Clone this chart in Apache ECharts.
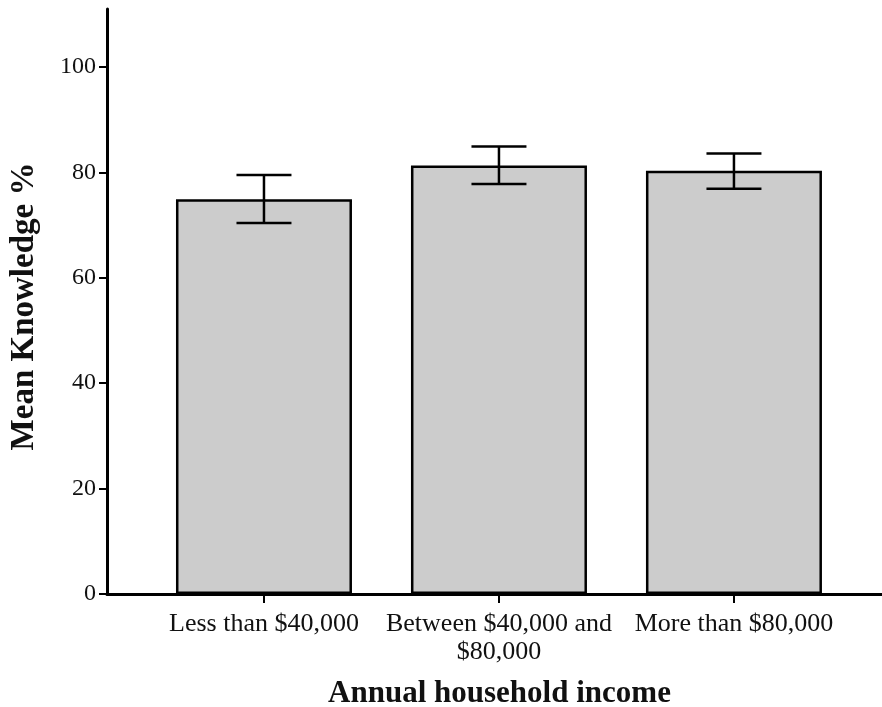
<!DOCTYPE html>
<html>
<head>
<meta charset="utf-8">
<script src="https://cdn.jsdelivr.net/npm/echarts@6/dist/echarts.min.js"></script>
<style>
html,body{margin:0;padding:0;background:#fff;}
#main{width:882px;height:707px;}
</style>
</head>
<body>
<div id="main"></div>
<script>
var categories = ['Less than $40,000', 'Between $40,000 and\n$80,000', 'More than $80,000'];
var means = [74.9, 81.3, 80.3];
var errLow = [70.4, 77.8, 76.9];
var errHigh = [79.5, 84.9, 83.6];
var yTicks = [0, 20, 40, 60, 80, 100];

var positions = categories.map(function (c, i) { return i; });
var barData = positions.map(function (p, i) { return [p, means[i]]; });
var errData = positions.map(function (p, i) { return [p, errLow[i], errHigh[i]]; });

var FONT = '"Liberation Serif", "Times New Roman", serif';
var chart = echarts.init(document.getElementById('main'));
chart.setOption({
  animation: false,
  backgroundColor: '#ffffff',
  grid: { left: 107, right: 0, top: 9, bottom: 113, containLabel: false, outerBoundsMode: 'none' },
  xAxis: {
    type: 'value',
    min: -0.668,
    max: 2.63,
    splitLine: { show: false },
    axisLine: { show: true, onZero: false, lineStyle: { color: '#000', width: 3 } },
    axisTick: { show: true, customValues: positions, length: 9, lineStyle: { color: '#000', width: 2 } },
    axisLabel: {
      customValues: positions,
      formatter: function (v) { return categories[Math.round(v)]; },
      fontFamily: FONT, fontSize: 26, color: '#111', margin: 16, lineHeight: 28
    },
    name: 'Annual household income',
    nameLocation: 'middle',
    nameGap: 84,
    nameTextStyle: { fontFamily: FONT, fontSize: 31, fontWeight: 'bold', color: '#111', padding: [0, 0, 0, 10] }
  },
  yAxis: {
    type: 'value',
    min: 0,
    max: 111,
    splitLine: { show: false },
    axisLine: { show: true, onZero: false, lineStyle: { color: '#000', width: 3 } },
    axisTick: { show: true, customValues: yTicks, length: 8, lineStyle: { color: '#000', width: 2 } },
    axisLabel: { customValues: yTicks, fontFamily: FONT, fontSize: 24, color: '#111', margin: 11 },
    name: 'Mean Knowledge %',
    nameLocation: 'middle',
    nameGap: 66,
    nameRotate: 90,
    nameTextStyle: { fontFamily: FONT, fontSize: 33, fontWeight: 'bold', color: '#111', padding: [0, 10, 0, 0] }
  },
  series: [
    {
      type: 'bar',
      data: barData,
      barWidth: 176,
      itemStyle: { color: '#cccccc', borderColor: '#000', borderWidth: 2.5 },
      z: 2
    },
    {
      type: 'custom',
      data: errData,
      z: 3,
      renderItem: function (params, api) {
        var x = api.value(0);
        var lo = api.coord([x, api.value(1)]);
        var hi = api.coord([x, api.value(2)]);
        var hw = api.size([0.117, 0])[0];
        var style = { stroke: '#000', lineWidth: 2.5, fill: null };
        return {
          type: 'group',
          children: [
            { type: 'line', shape: { x1: lo[0], y1: lo[1], x2: hi[0], y2: hi[1] }, style: style },
            { type: 'line', shape: { x1: hi[0] - hw, y1: hi[1], x2: hi[0] + hw, y2: hi[1] }, style: style },
            { type: 'line', shape: { x1: lo[0] - hw, y1: lo[1], x2: lo[0] + hw, y2: lo[1] }, style: style }
          ]
        };
      }
    }
  ]
});
</script>
</body>
</html>
